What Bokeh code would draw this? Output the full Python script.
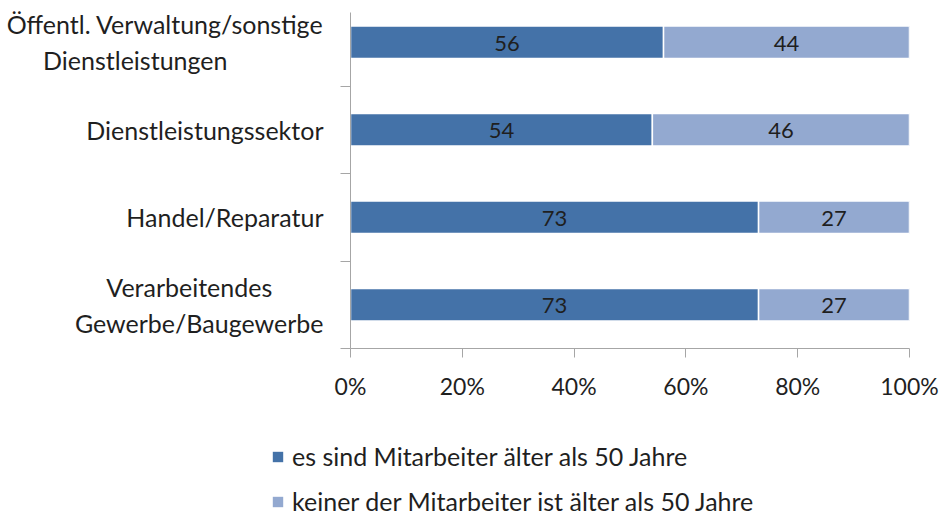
from bokeh.plotting import figure
from bokeh.models import (ColumnDataSource, FixedTicker, PrintfTickFormatter,
                          Legend, LegendItem, Range1d, LabelSet)
from bokeh.layouts import column, row
from bokeh.core.properties import value
from bokeh.embed import file_html
from bokeh.resources import INLINE

NB = "\u00a0"

# ---- data ----
categories = ["Verarbeitendes" + NB * 8 + "\nGewerbe/Baugewerbe",
              "Handel/Reparatur",
              "Dienstleistungssektor",
              "Öffentl. Verwaltung/sonstige\nDienstleistungen" + NB * 15]
older = [73, 73, 54, 56]      # es sind Mitarbeiter älter als 50 Jahre
none_older = [27, 27, 46, 44]  # keiner der Mitarbeiter ist älter als 50 Jahre
series_names = ["es sind Mitarbeiter älter als 50 Jahre",
                "keiner der Mitarbeiter ist älter als 50 Jahre"]
x_ticks = [0, 20, 40, 60, 80, 100]

FONT = "Lato"
C1 = "#4472A8"
C2 = "#93A9D0"
TXT = "#1f1f1f"
AX = "#a6a6a6"

ypos = list(range(len(categories)))
src = ColumnDataSource(dict(
    y=ypos,
    a0=[0] * len(older),
    a1=older,
    b1=[o + n for o, n in zip(older, none_older)],
    older=[str(v) for v in older],
    none_older=[str(v) for v in none_older],
    amid=[o / 2 for o in older],
    bmid=[o + n / 2 for o, n in zip(older, none_older)],
))

p = figure(width=942, height=408, output_backend="svg", toolbar_location=None,
           x_range=Range1d(0, 100), y_range=Range1d(-0.5, 3.34),
           min_border_left=350, min_border_right=33, min_border_top=12,
           min_border_bottom=60, frame_width=559, frame_height=336)
p.outline_line_color = None
p.grid.visible = False
p.background_fill_color = "white"

bh = 0.37
r1 = p.hbar(y="y", left="a0", right="a1", height=bh, source=src,
            fill_color=C1, line_color="white", line_width=1.5)
r2 = p.hbar(y="y", left="a1", right="b1", height=bh, source=src,
            fill_color=C2, line_color="white", line_width=1.5)

for col, xcol in (("older", "amid"), ("none_older", "bmid")):
    p.add_layout(LabelSet(x=xcol, y="y", text=col, source=src,
                          text_align="center", text_baseline="middle",
                          text_font=value(FONT), text_font_size=value("22px"),
                          text_color=value(TXT), y_offset=-1))

# x axis
xa = p.xaxis[0]
xa.ticker = FixedTicker(ticks=x_ticks, minor_ticks=[])
xa.formatter = PrintfTickFormatter(format="%d%%")
xa.axis_line_color = AX
xa.major_tick_line_color = AX
xa.major_tick_out = 9
xa.major_tick_in = 0
xa.major_label_standoff = 14
xa.major_label_text_font = FONT
xa.major_label_text_font_size = "23px"
xa.major_label_text_color = TXT

# y axis
ya = p.yaxis[0]
ya.ticker = FixedTicker(ticks=ypos, minor_ticks=[-0.5, 0.5, 1.5, 2.5])
ya.major_label_overrides = {i: c for i, c in zip(ypos, categories)}
ya.axis_line_color = AX
ya.major_tick_line_color = None
ya.major_tick_out = 0
ya.major_tick_in = 0
ya.minor_tick_line_color = AX
ya.minor_tick_out = 10
ya.minor_tick_in = 0
ya.major_label_standoff = 17
ya.major_label_text_font = FONT
ya.major_label_text_font_size = "25px"
ya.major_label_text_color = TXT
ya.major_label_text_line_height = 1.2

# legend in its own strip below the chart
pl = figure(width=942, height=110, output_backend="svg", toolbar_location=None,
            x_range=Range1d(1000, 1001), y_range=Range1d(1000, 1001),
            x_axis_type=None, y_axis_type=None,
            min_border=0)
pl.outline_line_color = None
pl.grid.visible = False
l1 = pl.hbar(y="y", left="a0", right="a1", height=bh, source=src,
             fill_color=C1, line_color=None)
l2 = pl.hbar(y="y", left="a1", right="b1", height=bh, source=src,
             fill_color=C2, line_color=None)
legend = Legend(items=[LegendItem(label=series_names[0], renderers=[l1]),
                       LegendItem(label=series_names[1], renderers=[l2])],
                location=(271, 2), orientation="vertical",
                glyph_width=13, glyph_height=13, label_standoff=8,
                label_height=28, spacing=15, padding=0, margin=0,
                border_line_color=None, background_fill_alpha=0,
                label_text_font=FONT, label_text_font_size="25px",
                label_text_color=TXT)
pl.add_layout(legend, "center")

layout = column(p, row(pl, spacing=0), spacing=0)
open("out.html", "w").write(file_html(layout, INLINE))
